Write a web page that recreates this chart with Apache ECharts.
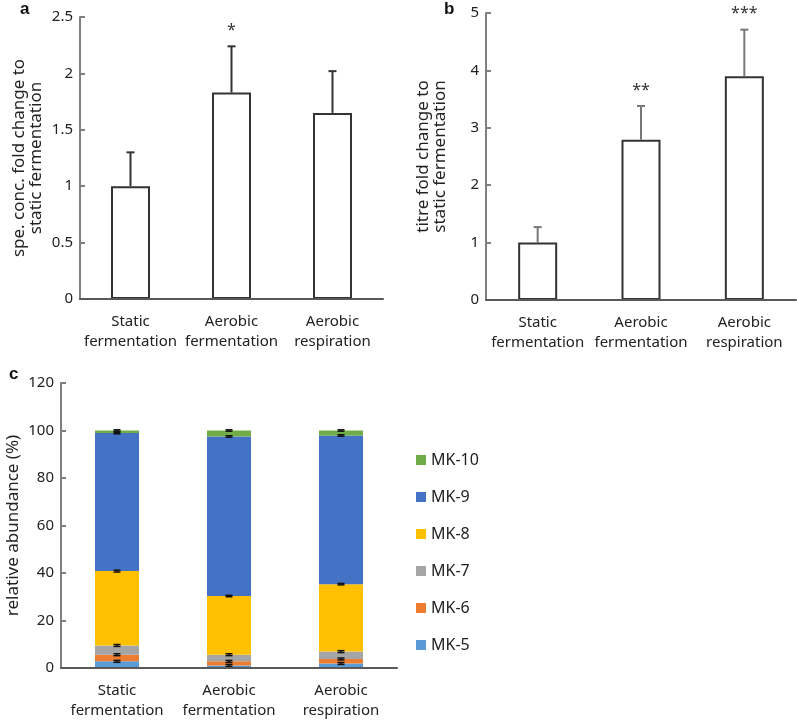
<!DOCTYPE html>
<html>
<head>
<meta charset="utf-8">
<script src="https://cdn.jsdelivr.net/npm/echarts@6/dist/echarts.min.js"></script>
<style>
  html, body { margin: 0; padding: 0; background: #ffffff; }
  #chart { width: 797px; height: 721px; }
</style>
</head>
<body>
<div id="chart"></div>
<script>
// ---------- data ----------
const categories = ['Static\nfermentation', 'Aerobic\nfermentation', 'Aerobic\nrespiration'];

// panel a
const aValues = [1.00, 1.83, 1.65];
const aErrors = [0.30, 0.41, 0.37];
const aSig = ['', '*', ''];
const aYName = 'spe. conc. fold change to\nstatic fermentation';

// panel b
const bValues = [1.00, 2.79, 3.90];
const bErrors = [0.27, 0.59, 0.81];
const bSig = ['', '**', '***'];
const bYName = 'titre fold change to\nstatic fermentation';

// panel c (relative abundance, %)
const mkNames = ['MK-5', 'MK-6', 'MK-7', 'MK-8', 'MK-9', 'MK-10'];
const mk5 = [2.8, 1.1, 1.9];
const mk6 = [2.8, 1.7, 1.9];
const mk7 = [3.9, 2.8, 3.1];
const mk8 = [31.3, 24.7, 28.4];
const mk9 = [58.1, 67.2, 62.6];
const mk10 = [1.1, 2.5, 2.1];
const mk5Err = [0.4, 0.4, 0.4];
const mk6Err = [0.4, 0.4, 0.4];
const mk7Err = [0.4, 0.4, 0.4];
const mk8Err = [0.4, 0.3, 0.3];
const mk9Err = [0.3, 0.3, 0.3];
const mk10Err = [0.3, 0.3, 0.3];
const mkColors = ['#5B9BD5', '#ED7D31', '#A5A5A5', '#FFC000', '#4472C4', '#70AD47'];
const cYName = 'relative abundance (%)';

// ---------- helpers ----------
const FONT = '"Noto Sans", "Open Sans", sans-serif';
const TXT = '#222222';

function errRenderer(opts) {
  return function (params, api) {
    const x = api.value(0), y = api.value(1), e = api.value(2);
    const top = api.coord([x, y + e]);
    const bot = api.coord([x, opts.upOnly ? y : y - e]);
    const hw = opts.capW / 2;
    const style = { stroke: opts.color, lineWidth: opts.lw };
    const children = [
      { type: 'line', shape: { x1: top[0], y1: top[1], x2: bot[0], y2: bot[1] }, style: style },
      { type: 'line', shape: { x1: top[0] - hw, y1: top[1], x2: top[0] + hw, y2: top[1] }, style: style }
    ];
    if (!opts.upOnly) {
      children.push({ type: 'line', shape: { x1: bot[0] - hw, y1: bot[1], x2: bot[0] + hw, y2: bot[1] }, style: style });
    }
    if (opts.sig && opts.sig[params.dataIndex]) {
      children.push({
        type: 'text',
        style: {
          text: opts.sig[params.dataIndex], x: top[0], y: top[1] - 16,
          align: 'center', verticalAlign: 'middle',
          font: '16px ' + FONT, fill: '#333333'
        }
      });
    }
    return { type: 'group', children: children };
  };
}

function catAxis(gridIndex) {
  return {
    type: 'category', gridIndex: gridIndex, data: categories, z: 10,
    axisLine: { lineStyle: { color: '#595959', width: 2 } },
    axisTick: { show: false },
    axisLabel: { interval: 0, color: TXT, fontSize: 15, fontFamily: FONT, lineHeight: 20, margin: 13 }
  };
}
function valAxis(gridIndex, max, interval, name, gap) {
  return {
    type: 'value', gridIndex: gridIndex, min: 0, max: max, interval: interval,
    splitLine: { show: false },
    axisLine: { show: true, lineStyle: { color: '#808080', width: 2 } },
    axisTick: { show: true, inside: true, length: 5, lineStyle: { color: '#808080', width: 2 } },
    axisLabel: { color: TXT, fontSize: 15, fontFamily: FONT, margin: 7 },
    name: name, nameLocation: 'middle', nameRotate: 90, nameGap: gap,
    nameTextStyle: { color: TXT, fontSize: 17, fontFamily: FONT, lineHeight: 17 }
  };
}

// cumulative tops for panel c error bars
const mkVals = [mk5, mk6, mk7, mk8, mk9, mk10];
const mkErrs = [mk5Err, mk6Err, mk7Err, mk8Err, mk9Err, mk10Err];
const cErrData = [];
for (let i = 0; i < categories.length; i++) {
  let cum = 0;
  for (let s = 0; s < mkVals.length; s++) {
    cum += mkVals[s][i];
    cErrData.push([i, cum, mkErrs[s][i]]);
  }
}

const barSeriesC = mkNames.map(function (n, s) {
  return {
    name: n, type: 'bar', stack: 'mk', xAxisIndex: 2, yAxisIndex: 2,
    barWidth: 44, data: mkVals[s], itemStyle: { color: mkColors[s] }, silent: true
  };
});

const option = {
  animation: false,
  backgroundColor: '#ffffff',
  textStyle: { fontFamily: FONT },
  grid: [
    { left: 80, top: 17, width: 303, height: 282 },
    { left: 486, top: 13, width: 310, height: 287 },
    { left: 61, top: 383, width: 336, height: 285 }
  ],
  xAxis: [catAxis(0), catAxis(1), catAxis(2)],
  yAxis: [
    valAxis(0, 2.5, 0.5, aYName, 35),
    valAxis(1, 5, 1, bYName, 37),
    valAxis(2, 120, 20, cYName, 39)
  ],
  legend: {
    data: ['MK-10', 'MK-9', 'MK-8', 'MK-7', 'MK-6', 'MK-5'],
    orient: 'vertical', left: 411, top: 447,
    itemWidth: 10, itemHeight: 10, itemGap: 21, icon: 'rect',
    textStyle: { color: TXT, fontSize: 16, fontFamily: FONT, lineHeight: 16 },
    selectedMode: false
  },
  graphic: [
    { type: 'text', left: 20, top: 1, style: { text: 'a', font: 'bold 17px "Liberation Sans", Arial, sans-serif', fill: '#111' } },
    { type: 'text', left: 444, top: 1, style: { text: 'b', font: 'bold 17px "Liberation Sans", Arial, sans-serif', fill: '#111' } },
    { type: 'text', left: 9, top: 366, style: { text: 'c', font: 'bold 17px "Liberation Sans", Arial, sans-serif', fill: '#111' } }
  ],
  series: [
    {
      type: 'bar', xAxisIndex: 0, yAxisIndex: 0, barWidth: 39, data: aValues, silent: true,
      itemStyle: { color: '#ffffff', borderColor: '#333333', borderWidth: 2 }
    },
    {
      type: 'custom', xAxisIndex: 0, yAxisIndex: 0, silent: true, z: 5,
      data: aValues.map(function (v, i) { return [i, v, aErrors[i]]; }),
      renderItem: errRenderer({ upOnly: true, capW: 8, color: '#333333', lw: 2, sig: aSig })
    },
    {
      type: 'bar', xAxisIndex: 1, yAxisIndex: 1, barWidth: 39, data: bValues, silent: true,
      itemStyle: { color: '#ffffff', borderColor: '#333333', borderWidth: 2 }
    },
    {
      type: 'custom', xAxisIndex: 1, yAxisIndex: 1, silent: true, z: 5,
      data: bValues.map(function (v, i) { return [i, v, bErrors[i]]; }),
      renderItem: errRenderer({ upOnly: true, capW: 8, color: '#777777', lw: 2, sig: bSig })
    }
  ].concat(barSeriesC).concat([
    {
      type: 'custom', xAxisIndex: 2, yAxisIndex: 2, silent: true, z: 5,
      data: cErrData,
      renderItem: errRenderer({ upOnly: false, capW: 7, color: '#111111', lw: 1.5 })
    }
  ])
};

const chart = echarts.init(document.getElementById('chart'), null, { renderer: 'canvas' });
chart.setOption(option);
</script>
</body>
</html>
